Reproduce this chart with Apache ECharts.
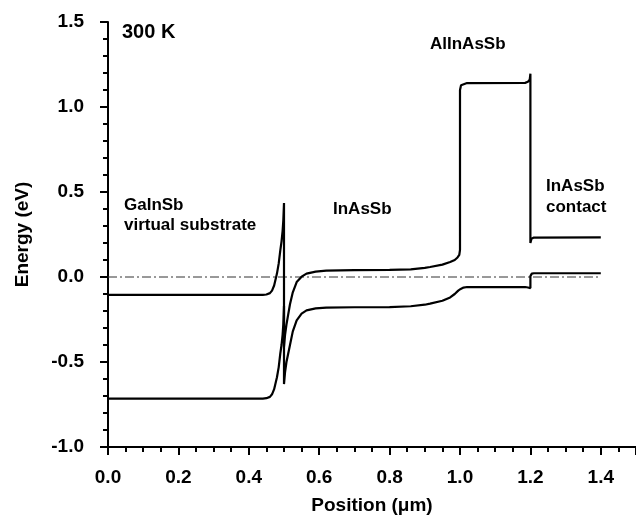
<!DOCTYPE html>
<html>
<head>
<meta charset="utf-8">
<script src="https://cdn.jsdelivr.net/npm/echarts@6/dist/echarts.min.js"></script>
<style>
  html, body { margin: 0; padding: 0; background: #fff; }
  #main { width: 636px; height: 524px; }
</style>
</head>
<body>
<div id="main"></div>
<script>
// conduction band (um, eV)
const cbX = [0, 0.44, 0.45, 0.46, 0.466, 0.472, 0.48, 0.485, 0.4895, 0.493, 0.496, 0.498, 0.5,
  0.5, 0.503, 0.507, 0.512, 0.517, 0.525, 0.536, 0.55, 0.564, 0.59, 0.62, 0.7, 0.8, 0.86, 0.9,
  0.915, 0.95, 0.972, 0.985, 0.993, 0.998, 1.0, 1.0, 1.003, 1.008, 1.02, 1.185, 1.193, 1.198, 1.2,
  1.2, 1.203, 1.21, 1.4]
const cbE = [-0.105, -0.105, -0.103, -0.095, -0.08, -0.05, 0.02, 0.08, 0.157, 0.21, 0.27, 0.33, 0.435,
  -0.41, -0.34, -0.28, -0.22, -0.16, -0.09, -0.03, 0.002, 0.02, 0.032, 0.038, 0.04, 0.042, 0.045, 0.054,
  0.059, 0.073, 0.088, 0.1, 0.115, 0.13, 0.16, 1.1, 1.128, 1.137, 1.141, 1.142, 1.148, 1.16, 1.196,
  0.2, 0.225, 0.232, 0.233]
// valence band
const vbX = [0, 0.44, 0.45, 0.46, 0.466, 0.472, 0.48, 0.485, 0.4895, 0.493, 0.496, 0.498, 0.5,
  0.5, 0.503, 0.507, 0.512, 0.517, 0.525, 0.536, 0.55, 0.564, 0.59, 0.62, 0.7, 0.8, 0.86, 0.9,
  0.915, 0.95, 0.972, 0.985, 0.995, 1.002, 1.01, 1.02, 1.185, 1.193, 1.198, 1.2,
  1.2, 1.204, 1.21, 1.4]
const vbE = [-0.715, -0.715, -0.713, -0.705, -0.69, -0.66, -0.59, -0.53, -0.45, -0.4, -0.34, -0.28, -0.17,
  -0.63, -0.56, -0.5, -0.45, -0.4, -0.32, -0.255, -0.215, -0.196, -0.185, -0.18, -0.178, -0.177, -0.172, -0.163,
  -0.157, -0.14, -0.12, -0.1, -0.08, -0.07, -0.062, -0.059, -0.059, -0.062, -0.07, -0.065,
  0.005, 0.02, 0.022, 0.022]
// Fermi level
const efX = [0, 1.4]
const efE = [0, 0]

const zip = (xs, ys) => xs.map((x, i) => [x, ys[i]])
const font = "'Liberation Sans', Arial, sans-serif"

const chart = echarts.init(document.getElementById('main'))

function label(text, x, y, size) {
  return {
    type: 'text',
    left: x,
    top: y,
    style: {
      text: text,
      font: 'bold ' + (size || 17) + 'px ' + font,
      fill: '#000'
    }
  }
}

const option = {
  backgroundColor: '#fff',
  animation: false,
  grid: { left: 108, right: 0, top: 22, bottom: 77 },
  xAxis: {
    type: 'value',
    min: 0,
    max: 1.5,
    interval: 0.2,
    name: 'Position (\u03bcm)',
    nameLocation: 'middle',
    nameGap: 49,
    nameTextStyle: { fontFamily: font, fontWeight: 'bold', fontSize: 19, color: '#000' },
    axisLine: { onZero: false, lineStyle: { color: '#000', width: 2 } },
    axisTick: { length: 8, lineStyle: { color: '#000', width: 2 } },
    minorTick: { show: true, splitNumber: 4, length: 5, lineStyle: { color: '#000', width: 2 } },
    axisLabel: {
      showMaxLabel: false,
      margin: 21,
      fontFamily: font, fontWeight: 'bold', fontSize: 19, color: '#000',
      formatter: v => v.toFixed(1)
    },
    splitLine: { show: false }
  },
  yAxis: {
    type: 'value',
    min: -1,
    max: 1.5,
    interval: 0.5,
    name: 'Energy (eV)',
    nameLocation: 'middle',
    nameGap: 76,
    nameTextStyle: { fontFamily: font, fontWeight: 'bold', fontSize: 19, color: '#000' },
    axisLine: { show: true, onZero: false, lineStyle: { color: '#000', width: 2 } },
    axisTick: { show: true, length: 8, lineStyle: { color: '#000', width: 2 } },
    minorTick: { show: true, splitNumber: 5, length: 5, lineStyle: { color: '#000', width: 2 } },
    axisLabel: {
      margin: 24,
      fontFamily: font, fontWeight: 'bold', fontSize: 19, color: '#000',
      formatter: v => v.toFixed(1)
    },
    splitLine: { show: false }
  },
  series: [
    {
      type: 'line', data: zip(efX, efE), symbol: 'none', silent: true,
      lineStyle: { color: '#333', width: 1, type: [9, 3, 2, 3] }
    },
    {
      type: 'line', data: zip(cbX, cbE), symbol: 'none',
      lineStyle: { color: '#000', width: 2.2 }
    },
    {
      type: 'line', data: zip(vbX, vbE), symbol: 'none',
      lineStyle: { color: '#000', width: 2.2 }
    }
  ],
  graphic: [
    label('300 K', 122, 22, 20),
    label('GaInSb', 124, 197),
    label('virtual substrate', 124, 217),
    label('InAsSb', 333, 201),
    label('AlInAsSb', 430, 36),
    label('InAsSb', 546, 178),
    label('contact', 546, 199)
  ]
}

chart.setOption(option)
</script>
</body>
</html>
